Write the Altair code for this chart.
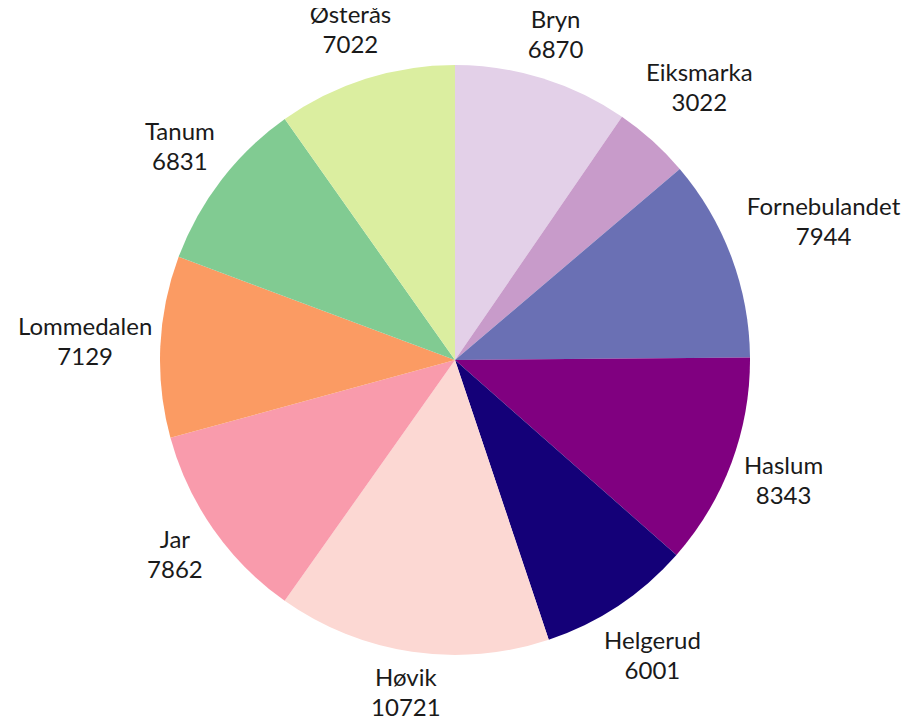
import altair as alt
import pandas as pd

names = ["Bryn", "Eiksmarka", "Fornebulandet", "Haslum", "Helgerud",
         "Høvik", "Jar", "Lommedalen", "Tanum", "Østerås"]
values = [6870, 3022, 7944, 8343, 6001, 10721, 7862, 7129, 6831, 7022]
colors = ["#e3d0e8", "#c89bca", "#6a70b4", "#800080", "#140078",
          "#fcd8d3", "#f99bac", "#fb9b63", "#81cb92", "#dbeea0"]

df = pd.DataFrame({"name": names, "value": values, "idx": list(range(len(names)))})
df["vtxt"] = df["value"].astype(str)

color = alt.Color("name:N", scale=alt.Scale(domain=names, range=colors), legend=None)

pie = alt.Chart(df).mark_arc(outerRadius=295).encode(
    theta=alt.Theta("value:Q", stack=True),
    order=alt.Order("idx:Q"),
    color=color,
)

lab = alt.Chart(df).transform_window(
    cum="sum(value)", sort=[alt.SortField("idx")], frame=[None, 0]
).transform_joinaggregate(
    total="sum(value)"
).transform_calculate(
    ang="(datum.cum - datum.value / 2) / datum.total * 2 * PI",
    halfw="max(length(datum.name), length(toString(datum.value))) * 6.5",
    r="304 + abs(sin(datum.ang)) * datum.halfw + abs(cos(datum.ang)) * 29",
).encode(
    theta=alt.Theta("ang:Q", scale=None),
    radius=alt.Radius("r:Q", scale=None),
)

style = dict(font="Lato", fontSize=24, color="#1a1a1a", align="center", baseline="middle")
name_txt = lab.mark_text(dy=-15, **style).encode(text="name:N")
val_txt = lab.mark_text(dy=15, **style).encode(text="vtxt:N")

chart = (pie + name_txt + val_txt).properties(
    width=894, height=692,
    padding={"left": 0, "top": 6, "right": 0, "bottom": 14},
    autosize=alt.AutoSizeParams(type="none"),
).configure_view(stroke=None)

chart.save("out.html", embed_options={"renderer": "svg", "actions": False})
